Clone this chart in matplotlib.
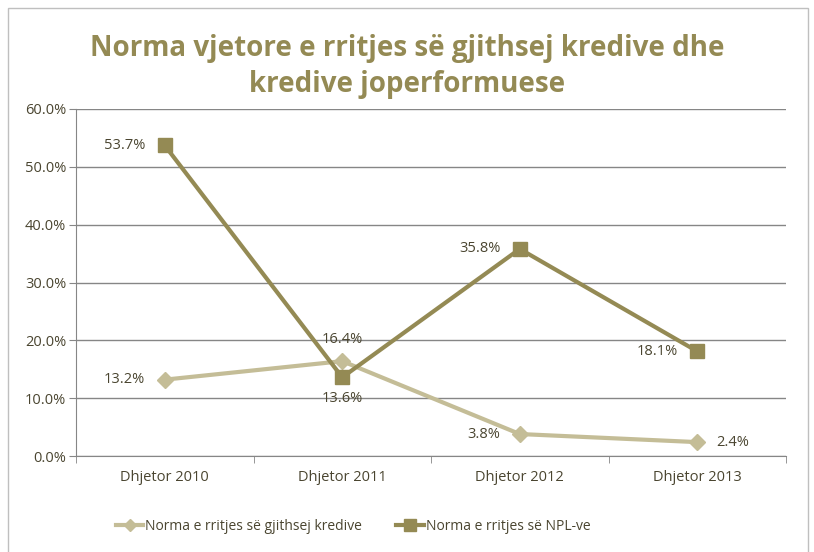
import matplotlib.pyplot as plt
from matplotlib.patches import Rectangle

# Datos del gráfico
kategorite = ["Dhjetor 2010", "Dhjetor 2011", "Dhjetor 2012", "Dhjetor 2013"]
kredi_gjithsej = [13.2, 16.4, 3.8, 2.4]
kredi_npl = [53.7, 13.6, 35.8, 18.1]

# Posición de las etiquetas de datos
pos_gjithsej = ["left", "above", "left", "right"]
pos_npl = ["left", "below", "left", "left"]

ngjyra_npl = "#948A54"
ngjyra_gjithsej = "#C4BD97"
ngjyra_teksti = "#4A4530"

plt.rcParams["font.family"] = ["Open Sans", "DejaVu Sans"]

fig = plt.figure(figsize=(8.14, 5.52), dpi=100)
ax = fig.add_axes([76 / 814, 1 - 456 / 552, 710 / 814, 347 / 552])

# Marco exterior del gráfico
fig.patches.append(Rectangle((8 / 814, -0.01), 800 / 814, 1 - 8 / 552 + 0.01,
                             transform=fig.transFigure, fill=False,
                             edgecolor="#BFBFBF", linewidth=1))

x = list(range(len(kategorite)))
ax.plot(x, kredi_gjithsej, color=ngjyra_gjithsej, linewidth=3, marker="D",
        markersize=8, label="Norma e rritjes së gjithsej kredive", zorder=3)
ax.plot(x, kredi_npl, color=ngjyra_npl, linewidth=3, marker="s",
        markersize=10, label="Norma e rritjes së NPL-ve", zorder=4)


def etiketo(vlerat, pozicionet):
    for xi, v, p in zip(x, vlerat, pozicionet):
        if p == "left":
            off, ha, va = (-14, 0), "right", "center"
        elif p == "right":
            off, ha, va = (14, 0), "left", "center"
        elif p == "above":
            off, ha, va = (0, 10), "center", "bottom"
        else:
            off, ha, va = (0, -10), "center", "top"
        ax.annotate(f"{v:.1f}%", (xi, v), xytext=off, textcoords="offset points",
                    ha=ha, va=va, fontsize=10.5, color=ngjyra_teksti)


etiketo(kredi_gjithsej, pos_gjithsej)
etiketo(kredi_npl, pos_npl)

ax.set_xlim(-0.5, len(kategorite) - 0.5)
ax.set_ylim(0, 60)
ax.set_yticks(range(0, 61, 10))
ax.set_yticklabels([f"{t:.1f}%" for t in range(0, 61, 10)])
ax.set_xticks(x)
ax.set_xticklabels(kategorite)
ax.set_xticks([i - 0.5 for i in range(len(kategorite) + 1)], minor=True)
ax.tick_params(axis="x", which="major", length=0, pad=10, labelsize=10.5,
               labelcolor=ngjyra_teksti)
ax.tick_params(axis="x", which="minor", length=5, color="#868686")
ax.tick_params(axis="y", length=5, color="#868686", labelsize=10.5,
               labelcolor=ngjyra_teksti, pad=2)

ax.grid(axis="y", color="#868686", linewidth=1)
ax.set_axisbelow(True)
for s in ["top", "right"]:
    ax.spines[s].set_visible(False)
ax.spines["left"].set_color("#868686")
ax.spines["bottom"].set_color("#868686")

fig.text(0.5, 0.88, "Norma vjetore e rritjes së gjithsej kredive dhe\nkredive joperformuese",
         ha="center", va="center", fontsize=20, fontweight="bold",
         color=ngjyra_npl, linespacing=1.3)

ax.legend(loc="upper center", bbox_to_anchor=(0.39, -0.145), ncol=2, frameon=False,
          fontsize=10, labelcolor=ngjyra_teksti, handlelength=2.0, markerscale=0.8,
          columnspacing=2.5, handletextpad=0.1)

plt.savefig("out.png", dpi=100)
